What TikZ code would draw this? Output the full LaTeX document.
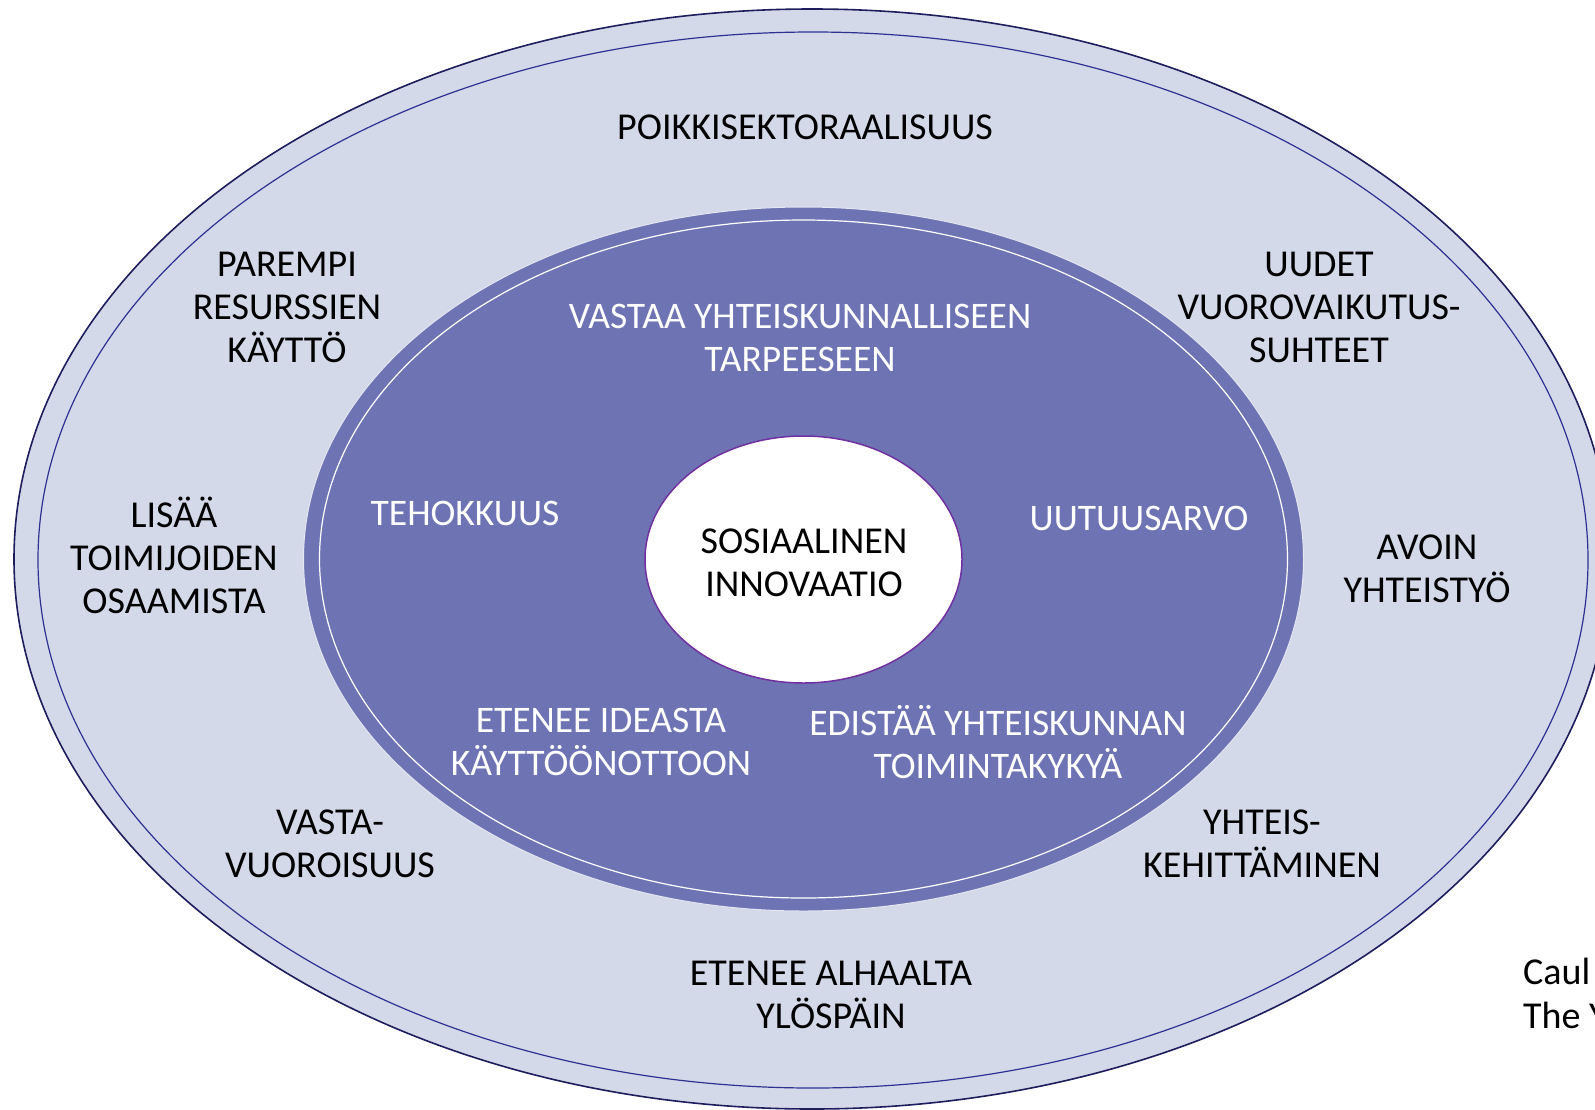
\documentclass[tikz,border=0pt]{standalone}
\usepackage{fontspec}
\setmainfont{Carlito}
\definecolor{outerfill}{HTML}{D3D9E8}
\definecolor{outerdraw}{HTML}{1E1D5E}
\definecolor{outerline}{HTML}{2E3192}
\definecolor{midfill}{HTML}{6E74B3}
\definecolor{midedge}{HTML}{E4E6F1}
\definecolor{coredraw}{HTML}{7030A0}
\begin{document}
\begin{tikzpicture}[x=1pt,y=-1pt,
  blk/.style={align=center,text=black,font=\fontsize{38}{43}\selectfont,inner sep=0pt},
  wht/.style={align=center,text=white,font=\fontsize{37.5}{43}\selectfont,inner sep=0pt},
  src/.style={align=left,text=black,font=\fontsize{38}{44}\selectfont,inner sep=0pt,anchor=west}]
\clip (0,0) rectangle (1595,1109);
\fill[white] (0,0) rectangle (1595,1109);
% outer ring
\draw[fill=outerfill,draw=outerdraw,line width=1.6pt] (812,559) ellipse [x radius=798pt,y radius=550pt];
\draw[draw=outerline,line width=1.2pt] (813,560) ellipse [x radius=775pt,y radius=528pt];
% middle ring
\draw[fill=midfill,draw=midedge,line width=1pt] (803.5,559) ellipse [x radius=500pt,y radius=352pt];
\draw[draw=white,line width=1.2pt] (803.5,559) ellipse [x radius=484pt,y radius=339pt];
% core
\draw[fill=white,draw=coredraw,line width=1.5pt] (803.5,559.5) ellipse [x radius=158.5pt,y radius=123.5pt];
% outer texts
\node[blk] (poikki) at (805,127) {POIKKISEKTORAALISUUS};
\node[blk] (parempi) at (287,307) {PAREMPI\\RESURSSIEN\\KÄYTTÖ};
\node[blk] (uudet) at (1319,307) {UUDET\\VUOROVAIKUTUS-\\SUHTEET};
\node[blk] (lisaa) at (174,555) {LISÄÄ\\TOIMIJOIDEN\\OSAAMISTA};
\node[blk] (avoin) at (1427,569) {AVOIN\\YHTEISTYÖ};
\node[blk] (vasta) at (330,844) {VASTA-\\VUOROISUUS};
\node[blk] (yhteis) at (1262,844) {YHTEIS-\\KEHITTÄMINEN};
\node[blk] (alhaalta) at (831,995) {ETENEE ALHAALTA\\YLÖSPÄIN};
% middle texts
\node[wht] (vastaa) at (800,338) {VASTAA YHTEISKUNNALLISEEN\\TARPEESEEN};
\node[wht] (teho) at (465,513) {TEHOKKUUS};
\node[wht] (uutuus) at (1139,518) {UUTUUSARVO};
\node[wht] (ideasta) at (601,742) {ETENEE IDEASTA\\KÄYTTÖÖNOTTOON};
\node[wht] (edistaa) at (998,742) {EDISTÄÄ YHTEISKUNNAN\\TOIMINTAKYKYÄ};
% core text
\node[blk] (sosiaalinen) at (804,563) {SOSIAALINEN\\INNOVAATIO};
% source
\node[src] (lahde) at (1523,993) {Caul\\The Y};
\end{tikzpicture}
\end{document}
